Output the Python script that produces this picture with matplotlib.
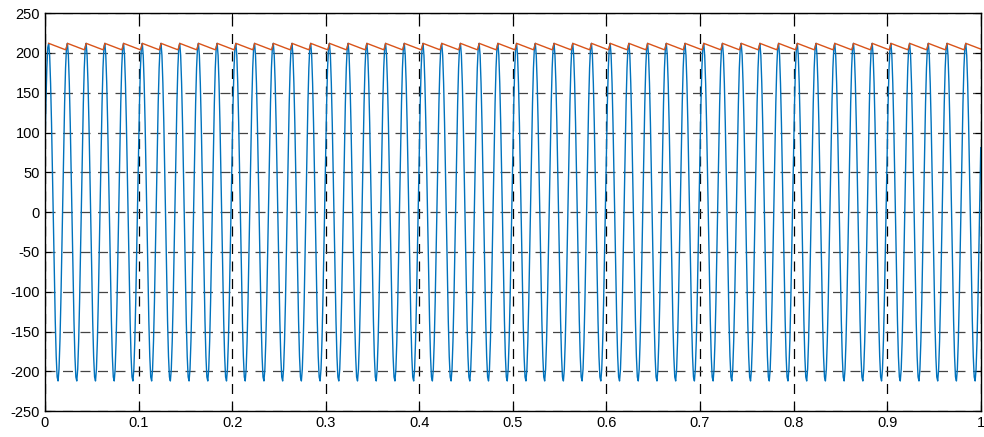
import numpy as np
import matplotlib
matplotlib.use('Agg')
import matplotlib.pyplot as plt

cycle_samples = [81, 137, 181, 207, 212, 197, 162, 112, 50, -16,
                 -81, -137, -181, -207, -212, -197, -162, -112, -50, 16]
# one cycle of the filtered output: charges at the peak, then slowly sags
output_samples = [204.8, 204.4, 204.0, 207.0, 212.0, 211.6, 211.1, 210.7, 210.2, 209.8,
                  209.3, 208.9, 208.4, 208.0, 207.5, 207.1, 206.6, 206.2, 205.7, 205.3]
n_cycles = 50
dt = 0.001

x_ticks = [0, 0.1, 0.2, 0.3, 0.4, 0.5, 0.6, 0.7, 0.8, 0.9, 1]
x_labels = ['0', '0.1', '0.2', '0.3', '0.4', '0.5', '0.6', '0.7', '0.8', '0.9', '1']
y_ticks = [-250, -200, -150, -100, -50, 0, 50, 100, 150, 200, 250]

vin = np.array(cycle_samples * n_cycles + [cycle_samples[0]], dtype=float)
vout = np.array(output_samples * n_cycles + [output_samples[0]], dtype=float)
vout[:4] = np.nan  # output trace starts at the first peak
t = np.arange(len(vin)) * dt

plt.rcParams['font.family'] = ['Liberation Sans', 'DejaVu Sans']
plt.rcParams['axes.unicode_minus'] = False

fig = plt.figure(figsize=(9.84, 4.37), dpi=100)
ax = fig.add_axes([0.0457, 0.059, 0.951, 0.911])

ax.plot(t, vin, color='#0072BD', lw=1.0)
ax.plot(t, vout, color='#D95319', lw=1.0)

ax.set_xlim(0, 1)
ax.set_ylim(-250, 250)
ax.set_xticks(x_ticks)
ax.set_xticklabels(x_labels)
ax.set_yticks(y_ticks)
ax.tick_params(direction='in', length=4, labelsize=10.5, width=0.8,
               top=True, right=True)
ax.grid(True, axis='x', color='k', linestyle=(0, (8, 6)), lw=0.9)
ax.grid(True, axis='y', color='#444444', linestyle=(0, (8, 6)), lw=0.9)
for s in ax.spines.values():
    s.set_linewidth(1.0)

fig.savefig('out.png', dpi=100)
